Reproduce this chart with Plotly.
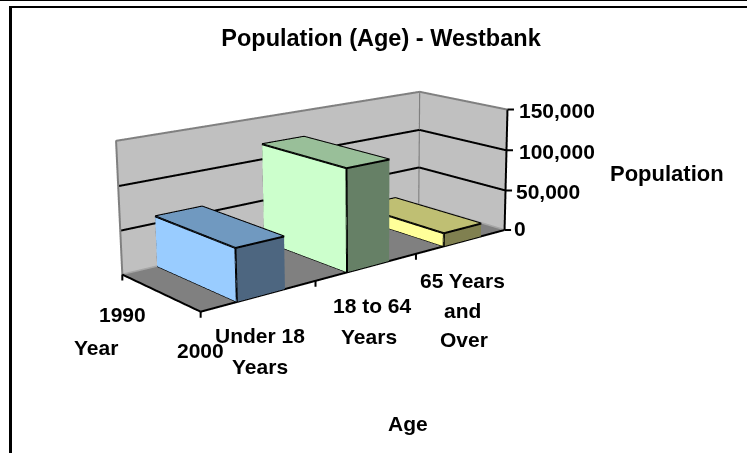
import plotly.graph_objects as go

categories = [["Under 18", "Years"], ["18 to 64", "Years"], ["65 Years", "and", "Over"]]
years = ["2000", "1990"]
values_2000 = [58000, 118000, 16000]
z_ticks = [0, 50000, 100000, 150000]
z_labels = ["0", "50,000", "100,000", "150,000"]

category_label_px = [[(260, 335), (260, 366)], [(372, 305), (369, 336)], [(462, 280), (462, 310), (464, 339)]]
z_label_px = [(512, 228), (514, 191), (517, 152), (517, 110)]

W = 747
# The page is a tall plot shifted up, so that the 3D camera's fixed 45 degree lens
# gives the weak perspective of the reference inside the 747x453 window.
HF = 1073   # plot height
TOP = 381   # hidden height above the window
EYE = (-2.0249, -2.5495, 0.8553)
CENTER = (0.1118, -0.0693, 0.0830)
ASPECT = (1, 0.3506, 0.3400)


def py_(y):
    return 1 - (y + TOP) / HF


def bar(i, v, colors):
    x0, x1 = i + 0.3, i + 0.72
    xs = [x0, x1, x1, x0, x0, x1, x1, x0]
    ys = [0, 0, 1, 1, 0, 0, 1, 1]
    zs = [0, 0, 0, 0, v, v, v, v]
    I = [0, 0, 4, 4, 0, 0, 1, 1, 2, 2, 3, 3]
    J = [1, 2, 5, 6, 1, 5, 2, 6, 3, 7, 0, 4]
    K = [2, 3, 6, 7, 5, 4, 6, 5, 7, 6, 4, 7]
    fc = [colors[1]] * 2 + [colors[2]] * 2 + [colors[1]] * 2 + [colors[1]] * 2 + [colors[1]] * 2 + [colors[0]] * 2
    return [
        go.Mesh3d(x=xs, y=ys, z=zs, i=I, j=J, k=K, facecolor=fc, flatshading=True,
                  lighting=dict(ambient=1, diffuse=0, specular=0, roughness=1, fresnel=0),
                  hoverinfo="skip", showscale=False),
        go.Scatter3d(x=[x0, x0, x1, x1, x0, x0, x1, None, x1, x1, x1, None, x0, x0],
                     y=[0, 1, 1, 0, 0, 0, 0, None, 0, 1, 1, None, 0, 1],
                     z=[v, v, v, v, v, 0, 0, None, v, v, 0, None, 0, 0], mode="lines",
                     line=dict(color="black", width=4), hoverinfo="skip", showlegend=False),
    ]


def line3d(x, y, z, color, width=4):
    return go.Scatter3d(x=x, y=y, z=z, mode="lines", line=dict(color=color, width=width),
                        hoverinfo="skip", showlegend=False)


palette = [("#99CCFF", "#4D6680", "#7099C0"), ("#CCFFCC", "#668066", "#99BF99"), ("#FFFF99", "#808050", "#BFBF73")]
fig = go.Figure()
zmax = z_ticks[-1]
for zt in z_ticks[1:-1]:
    fig.add_trace(line3d([0, 3, 3], [1, 1, 0], [zt, zt, zt], "black"))
fig.add_trace(line3d([0, 0, 3, 3], [1, 1, 1, 0], [0, zmax, zmax, zmax], "#808080"))
fig.add_trace(line3d([3, 3], [1, 1], [0, zmax], "#808080"))
fig.add_trace(line3d([0, 3, 3], [1, 1, 0], [0, 0, 0], "#A6A6A6"))
fig.add_trace(line3d([0, 0, 3], [1, 0, 0], [0, 0, 0], "black"))
fig.add_trace(line3d([3, 3], [0, 0], [0, zmax], "black"))
for i, v in enumerate(values_2000):
    for tr in bar(i, v, palette[i]):
        fig.add_trace(tr)


def tick(x, y, z, ax, ay):
    return dict(x=x, y=y, z=z, text=" ", font=dict(size=1), borderpad=0, showarrow=True, arrowhead=0,
                arrowwidth=2, arrowcolor="black", ax=ax, ay=ay, standoff=0, startstandoff=0)


ann = [tick(3, 0, zt, 7, 0) for zt in z_ticks]
ann += [tick(i, 0, 0, 0, 7) for i in [0, 1, 2]] + [tick(0, 1, 0, 0, 7)]

fnt = dict(family="Liberation Sans", size=21, color="black")
ax2 = dict(showbackground=True, showticklabels=False, title="", showspikes=False, zeroline=False,
           ticks="", showgrid=False, showline=False)


def lab(text, x, y, anchor="center", size=None):
    d = dict(text=f"<b>{text}</b>", x=x / W, y=py_(y), xref="paper", yref="paper", showarrow=False,
             xanchor=anchor, yanchor="middle")
    if size:
        d["font"] = dict(size=size)
    return d


paper = [lab("Population", 667, 173, size=22), lab("Year", 96, 347), lab("Age", 408, 423),
         lab(years[1], 122, 314), lab(years[0], 200, 350)]
for lines, pos in zip(categories, category_label_px):
    paper += [lab(s, *q) for s, q in zip(lines, pos)]
paper += [lab(s, *q, anchor="left") for s, q in zip(z_labels, z_label_px)]

fig.update_layout(
    width=W, height=HF, margin=dict(l=0, r=0, t=0, b=0), paper_bgcolor="white", showlegend=False, font=fnt,
    title=dict(text="<b>Population (Age) - Westbank</b>", x=381 / W, xanchor="center", y=py_(38),
               yanchor="middle", font=dict(size=23.5)),
    scene=dict(
        domain=dict(x=[0, 1], y=[0, 1]), aspectmode="manual",
        aspectratio=dict(x=ASPECT[0], y=ASPECT[1], z=ASPECT[2]),
        camera=dict(eye=dict(x=EYE[0], y=EYE[1], z=EYE[2]), center=dict(x=CENTER[0], y=CENTER[1], z=CENTER[2]),
                    up=dict(x=0, y=0, z=1), projection=dict(type="perspective")),
        xaxis=dict(range=[0, 3], backgroundcolor="#C0C0C0", **ax2),
        yaxis=dict(range=[0, 1], backgroundcolor="#C0C0C0", **ax2),
        zaxis=dict(range=[0, zmax], backgroundcolor="#808080", **ax2),
        annotations=ann),
    annotations=paper,
    shapes=[
        dict(type="line", xref="paper", yref="paper", x0=0, x1=1, y0=py_(0.5), y1=py_(0.5),
             line=dict(color="black", width=1)),
        dict(type="line", xref="paper", yref="paper", x0=9 / W, x1=1, y0=py_(7), y1=py_(7),
             line=dict(color="black", width=2)),
        dict(type="line", xref="paper", yref="paper", x0=10.5 / W, x1=10.5 / W, y0=py_(460), y1=py_(6),
             line=dict(color="black", width=3)),
    ])
fig.write_html("out.html", config=dict(displayModeBar=False),
               post_script=("document.documentElement.style.overflow='hidden';"
                            "document.body.style.margin='0';document.body.style.overflow='hidden';"
                            f"document.querySelector('.plotly-graph-div').style.marginTop='{-TOP}px';"))
